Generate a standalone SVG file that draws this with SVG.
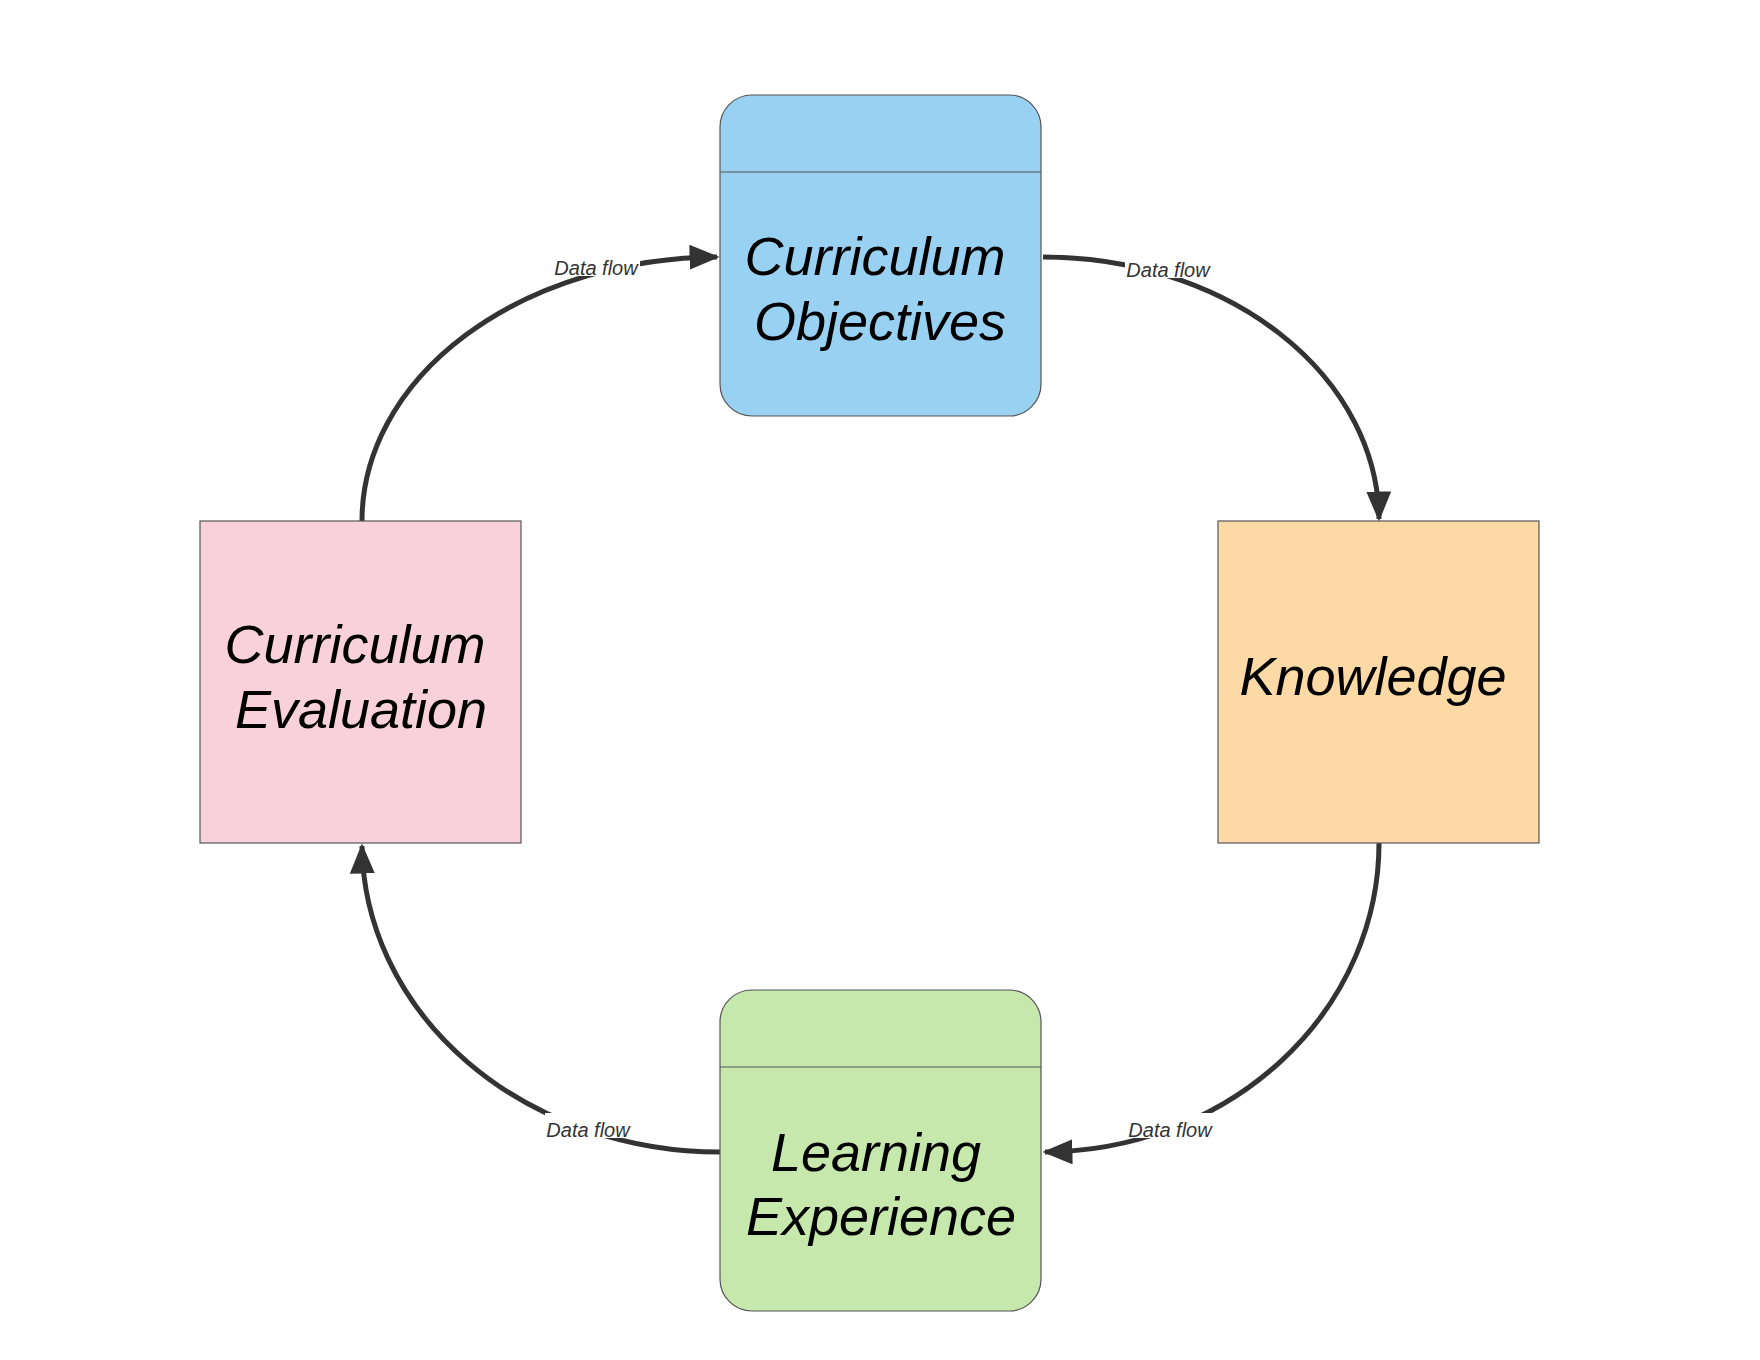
<svg xmlns="http://www.w3.org/2000/svg" width="1760" height="1360" viewBox="0 0 1760 1360">
<defs>
<style>
.box{stroke:#555;stroke-width:1.2}
.t{font-family:"Liberation Sans",Arial,sans-serif;font-style:italic;font-size:54px;fill:#000;text-anchor:middle}
.c{fill:none;stroke:#333;stroke-width:5}
.lb{font-family:"Liberation Sans",Arial,sans-serif;font-style:italic;font-size:20px;fill:#333;text-anchor:middle}
</style>
<marker id="ah" markerWidth="6" markerHeight="5" refX="5.5" refY="2.5" orient="auto" markerUnits="strokeWidth"><path d="M0,0 L6,2.5 L0,5 z" fill="#333"/></marker>
</defs>
<rect width="1760" height="1360" fill="#fff"/>
<g id="connectors">
<path class="c" d="M1043,257 A336,264 0 0 1 1379,519" marker-end="url(#ah)"/>
<path class="c" d="M1379,843 A336,309 0 0 1 1045,1152" marker-end="url(#ah)"/>
<path class="c" d="M720,1152 A358,309 0 0 1 362,846" marker-end="url(#ah)"/>
<path class="c" d="M362,521 A358,264 0 0 1 717,257" marker-end="url(#ah)"/>
<g>
<rect x="553" y="251" width="87" height="25" fill="#fff"/><text class="lb" x="596" y="275">Data flow</text>
<rect x="1125" y="253" width="87" height="25" fill="#fff"/><text class="lb" x="1168" y="277">Data flow</text>
<rect x="545" y="1113" width="87" height="25" fill="#fff"/><text class="lb" x="588" y="1137">Data flow</text>
<rect x="1127" y="1113" width="87" height="25" fill="#fff"/><text class="lb" x="1170" y="1137">Data flow</text>
</g>
</g>
<g id="objectives">
<rect class="box" x="720" y="95" width="321" height="321" rx="32" fill="#99d1f2"/>
<line class="box" x1="720" y1="172" x2="1041" y2="172"/>
<text class="t" x="875" y="275">Curriculum</text>
<text class="t" x="880" y="340">Objectives</text>
</g>
<g id="knowledge">
<rect class="box" x="1218" y="521" width="321" height="322" fill="#fdd9a6"/>
<text class="t" x="1373" y="695">Knowledge</text>
</g>
<g id="evaluation">
<rect class="box" x="200" y="521" width="321" height="322" fill="#f8d1dd"/>
<text class="t" x="355" y="663">Curriculum</text>
<text class="t" x="361" y="728">Evaluation</text>
</g>
<g id="learning">
<rect class="box" x="720" y="990" width="321" height="321" rx="32" fill="#c7e8ac"/>
<line class="box" x1="720" y1="1067" x2="1041" y2="1067"/>
<text class="t" x="876" y="1171">Learning</text>
<text class="t" x="881" y="1235">Experience</text>
</g>
</svg>
